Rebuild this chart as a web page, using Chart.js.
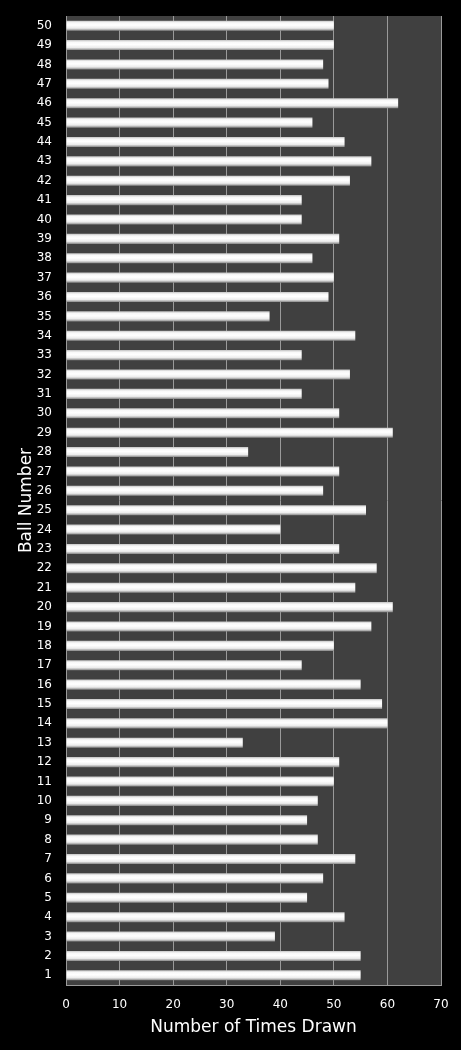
<!DOCTYPE html>
<html>
<head>
<meta charset="utf-8">
<script src="https://cdn.jsdelivr.net/npm/chart.js@4/dist/chart.umd.min.js"></script>
<style>
  html, body { margin: 0; padding: 0; background: #000; }
  #wrap { width: 461px; height: 1050px; }
</style>
</head>
<body>
<div id="wrap"><canvas id="ballChart" width="461" height="1050"></canvas></div>
<script>
const balls = ["1","2","3","4","5","6","7","8","9","10",
  "11","12","13","14","15","16","17","18","19","20",
  "21","22","23","24","25","26","27","28","29","30",
  "31","32","33","34","35","36","37","38","39","40",
  "41","42","43","44","45","46","47","48","49","50"];
const timesDrawn = [55, 55, 39, 52, 45, 48, 54, 47, 45, 47,
  50, 51, 33, 60, 59, 55, 44, 50, 57, 61,
  54, 58, 51, 40, 56, 48, 51, 34, 61, 51,
  44, 53, 44, 54, 38, 49, 50, 46, 51, 44,
  44, 53, 57, 52, 46, 62, 49, 48, 50, 50];
const xTicks = [0, 10, 20, 30, 40, 50, 60, 70];

const fontFamily = "'DejaVu Sans', Verdana, sans-serif";

// dark plot area behind the bars
const plotBackground = {
  id: "plotBackground",
  beforeDraw(chart) {
    const { ctx, chartArea: a } = chart;
    ctx.save();
    ctx.fillStyle = "#404040";
    ctx.fillRect(a.left, a.top, a.right - a.left, a.bottom - a.top);
    ctx.restore();
  }
};

// tube-like shading on each bar
function barShade(context) {
  const chart = context.chart;
  const yScale = chart.scales.y;
  if (!yScale || context.dataIndex === undefined) return "#eeeeee";
  const y = yScale.getPixelForValue(context.dataIndex);
  if (!isFinite(y)) return "#eeeeee";
  const g = chart.ctx.createLinearGradient(0, y - 5, 0, y + 5);
  g.addColorStop(0, "#c4c4c4");
  g.addColorStop(0.2, "#f8f8f8");
  g.addColorStop(0.45, "#ffffff");
  g.addColorStop(0.75, "#ececec");
  g.addColorStop(1, "#888888");
  return g;
}

new Chart(document.getElementById("ballChart"), {
  type: "bar",
  data: {
    labels: balls,
    datasets: [{
      data: timesDrawn,
      backgroundColor: barShade,
      borderWidth: 0,
      barPercentage: 0.52,
      categoryPercentage: 1
    }]
  },
  options: {
    indexAxis: "y",
    responsive: false,
    animation: false,
    layout: { padding: { top: 16, right: 20, left: 0, bottom: 0 } },
    plugins: {
      legend: { display: false },
      tooltip: { enabled: false }
    },
    scales: {
      x: {
        min: 0,
        max: 70,
        afterBuildTicks: scale => { scale.ticks = xTicks.map(v => ({ value: v })); },
        afterFit: scale => {
          scale.height = 65;
          scale.paddingLeft = 0;
          scale.paddingRight = 0;
        },
        grid: { color: "#9a9a9a", lineWidth: 1, drawTicks: false },
        border: { display: true, color: "#9a9a9a" },
        ticks: {
          color: "#ffffff",
          padding: 13,
          font: { family: fontFamily, size: 12 }
        },
        title: {
          display: true,
          text: "Number of Times Drawn",
          color: "#ffffff",
          padding: { top: 0, bottom: 12 },
          font: { family: fontFamily, size: 17 }
        }
      },
      y: {
        reverse: true,
        afterFit: scale => {
          scale.width = 66;
          scale.paddingTop = 0;
          scale.paddingBottom = 0;
        },
        grid: { display: false, drawTicks: false },
        border: { display: true, color: "#9a9a9a" },
        ticks: {
          color: "#ffffff",
          padding: 14,
          autoSkip: false,
          font: { family: fontFamily, size: 12 }
        },
        title: {
          display: true,
          text: "Ball Number",
          color: "#ffffff",
          padding: { top: 16, bottom: 0 },
          font: { family: fontFamily, size: 17 }
        }
      }
    }
  },
  plugins: [plotBackground]
});
</script>
</body>
</html>
